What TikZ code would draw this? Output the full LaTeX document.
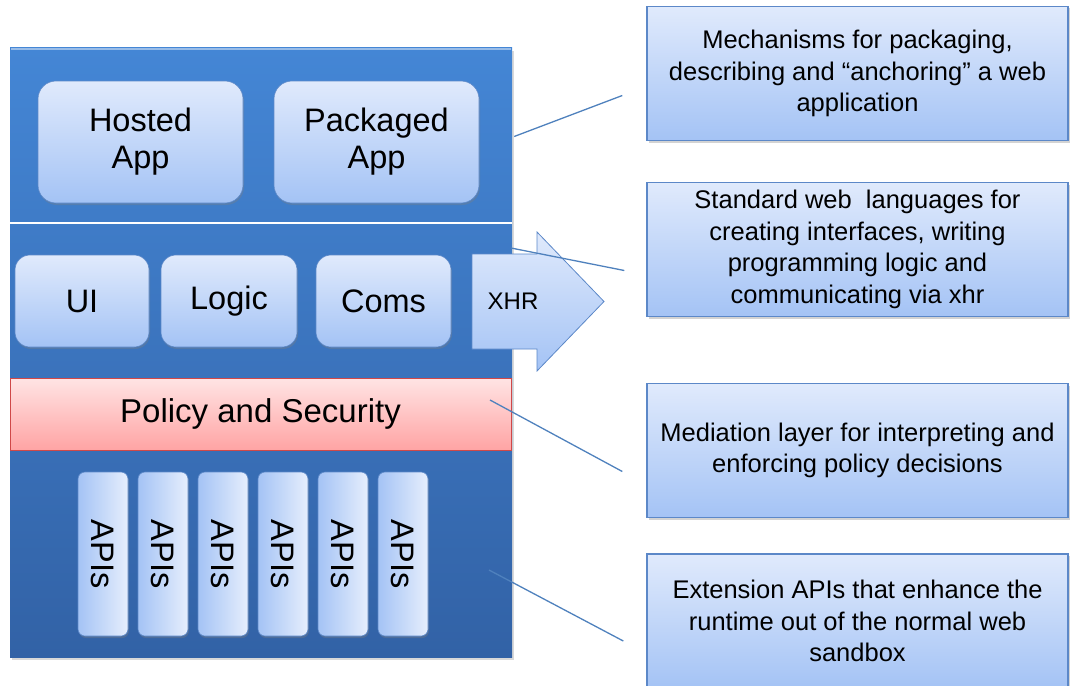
\documentclass[tikz,border=0pt]{standalone}
\usepackage{fontspec}
\setmainfont{Liberation Sans}
\usetikzlibrary{shadows,calc}

\definecolor{layerTop}{RGB}{68,134,213}
\definecolor{layerBot}{RGB}{50,98,166}
\definecolor{boxTop}{RGB}{224,234,252}
\definecolor{boxBot}{RGB}{164,195,245}
\definecolor{boxLine}{RGB}{92,136,200}
\definecolor{pinkTop}{RGB}{255,228,228}
\definecolor{pinkBot}{RGB}{255,164,164}
\definecolor{pinkLine}{RGB}{208,72,72}
\definecolor{linkBlue}{RGB}{79,129,189}

\begin{document}
\begin{tikzpicture}[x=1pt, y=-1pt,
  every node/.style={align=center},
  stackbox/.style={top color=layerTop, bottom color=layerBot, minimum width=502pt, minimum height=609pt,
    drop shadow={opacity=.3, shadow xshift=2pt, shadow yshift=-3pt}},
  appbox/.style={draw=boxLine, line width=.6pt, rounded corners=18pt, top color=boxTop, bottom color=boxBot,
    font=\fontsize{32.5}{37}\selectfont, drop shadow={opacity=.35, shadow xshift=1pt, shadow yshift=-2pt}},
  apibox/.style={draw=boxLine, line width=.6pt, rounded corners=7pt, left color=boxBot, right color=boxTop!80!white,
    font=\fontsize{32.5}{37}\selectfont, drop shadow={opacity=.35, shadow xshift=1pt, shadow yshift=-2pt},
    minimum width=50pt, minimum height=164pt, inner sep=0pt},
  policybar/.style={draw=pinkLine, line width=.8pt, top color=pinkTop, bottom color=pinkBot,
    minimum width=501pt, minimum height=72pt, font=\fontsize{33}{37}\selectfont},
  notebox/.style={draw=boxLine, line width=1.4pt, top color=boxTop, bottom color=boxBot,
    minimum width=421pt, minimum height=134pt, font=\fontsize{25.5}{31.5}\selectfont,
    drop shadow={opacity=.35, shadow xshift=2pt, shadow yshift=-2pt}},
  leader/.style={draw=linkBlue, line width=1.3pt}
]
\useasboundingbox (0,0) rectangle (1078,685);

% the runtime stack
\node[stackbox] (stack) at (261,352.5) {};
\draw[layerTop!55!white, line width=2pt] (11,49) -- (511,49);
\draw[white, line width=1.3pt] (10,223) -- (512,223);

% packaging layer
\node[appbox, minimum width=205pt, minimum height=122pt] (hosted) at (140.5,142) {Hosted\\App};
\node[appbox, minimum width=205pt, minimum height=122pt] (packaged) at (376.5,142) {Packaged\\App};

% web layer
\node[appbox, rounded corners=15pt, minimum width=134pt, minimum height=92pt] (ui) at (82,301) {UI};
\node[appbox, rounded corners=15pt, minimum width=136pt, minimum height=92pt] (logic) at (229,301) {Logic};
\node[appbox, rounded corners=15pt, minimum width=135pt, minimum height=92pt] (coms) at (383.5,301) {Coms};
\draw[draw=boxLine, line width=.8pt, top color=boxTop, bottom color=boxBot]
  (472,254) -- (537,254) -- (537,232) -- (604,301.5) -- (537,371) -- (537,349) -- (472,349) -- cycle;
\node[font=\fontsize{24}{28}\selectfont] (xhr) at (513,301) {XHR};

% policy and apis
\node[policybar] (policy) at (260.5,414) {Policy and Security};
\foreach \i in {0,...,5}
  \node[apibox] (api\i) at (103+60*\i,554) {\rotatebox{-90}{APIs}};

% descriptions
\node[notebox] (note1) at (857.5,73.5) {Mechanisms for packaging,\\describing and “anchoring” a web\\application};
\node[notebox] (note2) at (857.5,249.5) {Standard web \ languages for\\creating interfaces, writing\\programming logic and\\communicating via xhr};
\node[notebox] (note3) at (857.5,450.5) {Mediation layer for interpreting and\\enforcing policy decisions};
\node[notebox] (note4) at (857.5,621) {Extension APIs that enhance the\\runtime out of the normal web\\sandbox};

\coordinate (from2) at (511,248);
\coordinate (from3) at (490,400);
\coordinate (from4) at (489,570);
\draw[leader] ($(stack.east)+(2,-216)$) -- ($(note1.west)+(-24,22)$);
\draw[leader] (from2) -- ($(note2.west)+(-22,21)$);
\draw[leader] (from3) -- ($(note3.west)+(-24,21)$);
\draw[leader] (from4) -- ($(note4.west)+(-23,20)$);
\end{tikzpicture}
\end{document}
